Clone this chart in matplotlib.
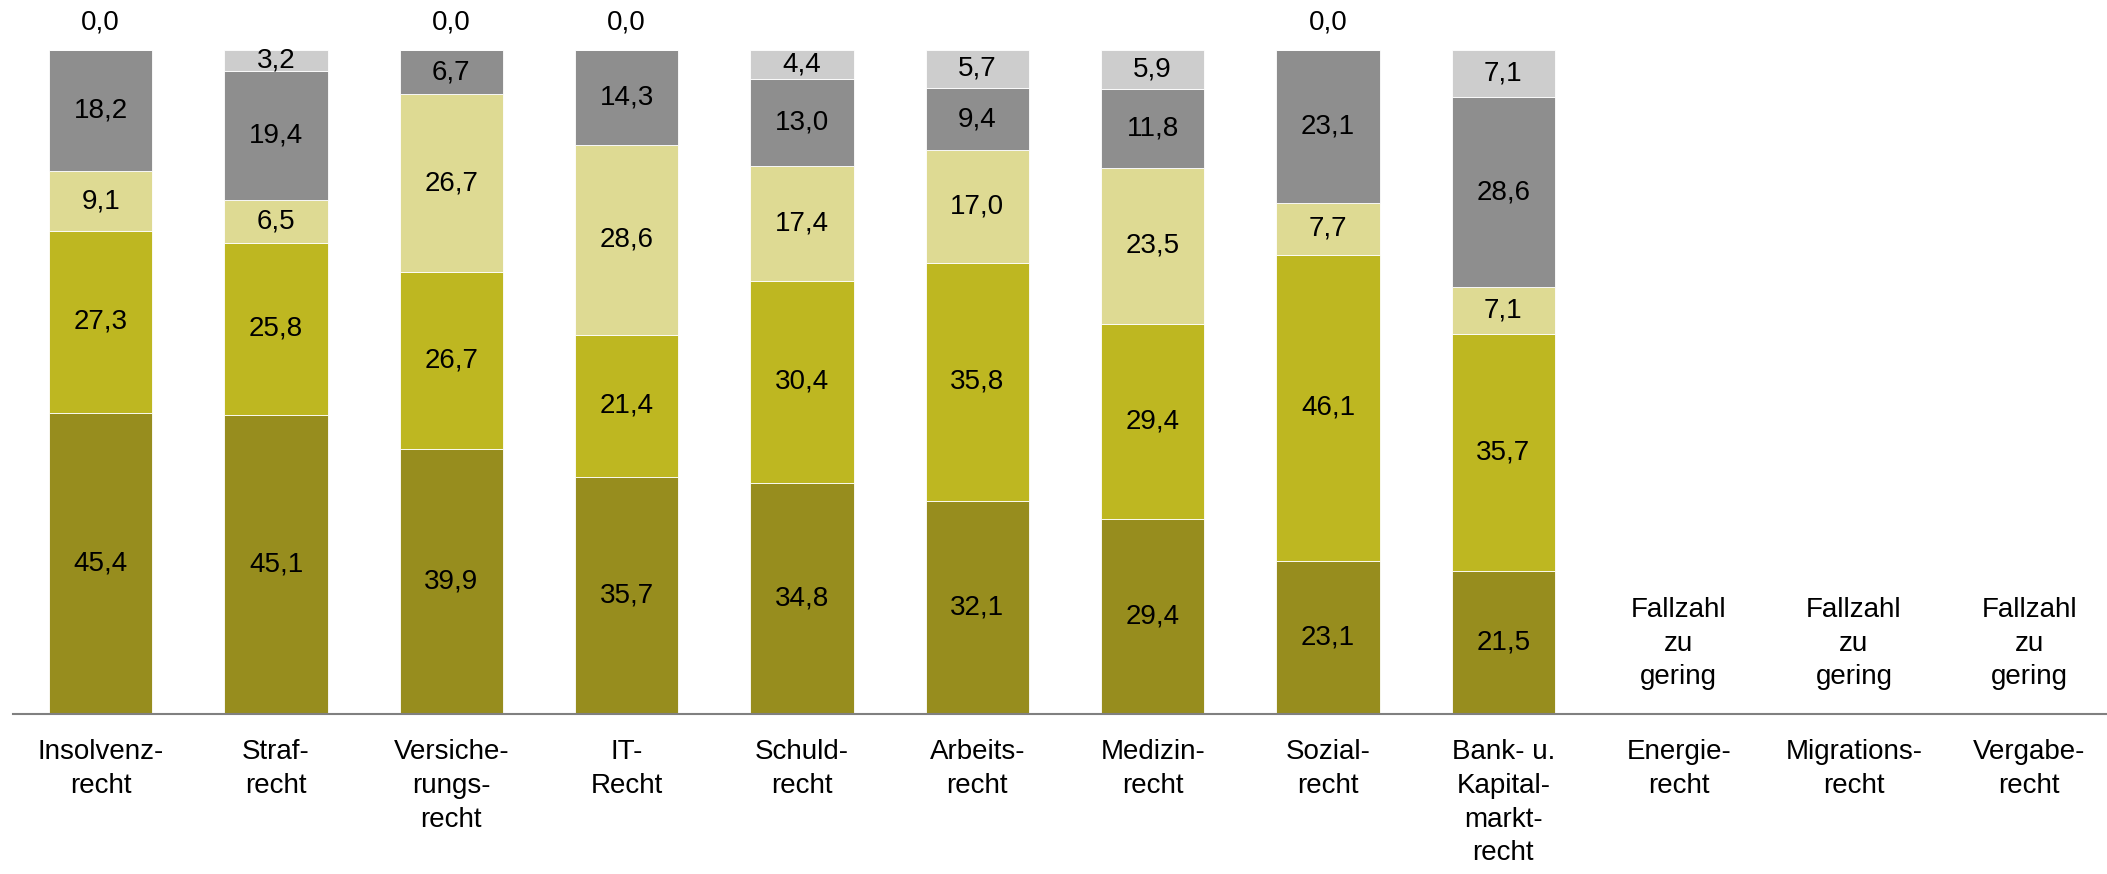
import numpy as np
import matplotlib.pyplot as plt

plt.rcParams['font.family'] = ['Liberation Sans', 'DejaVu Sans']

categories = ['Insolvenz-\nrecht', 'Straf-\nrecht', 'Versiche-\nrungs-\nrecht', 'IT-\nRecht',
              'Schuld-\nrecht', 'Arbeits-\nrecht', 'Medizin-\nrecht', 'Sozial-\nrecht',
              'Bank- u.\nKapital-\nmarkt-\nrecht', 'Energie-\nrecht', 'Migrations-\nrecht', 'Vergabe-\nrecht']

# stacked shares in percent, bottom to top (only the first nine fields have data)
share_1 = [45.4, 45.1, 39.9, 35.7, 34.8, 32.1, 29.4, 23.1, 21.5]
share_2 = [27.3, 25.8, 26.7, 21.4, 30.4, 35.8, 29.4, 46.1, 35.7]
share_3 = [9.1, 6.5, 26.7, 28.6, 17.4, 17.0, 23.5, 7.7, 7.1]
share_4 = [18.2, 19.4, 6.7, 14.3, 13.0, 9.4, 11.8, 23.1, 28.6]
share_5 = [0.0, 3.2, 0.0, 0.0, 4.4, 5.7, 5.9, 0.0, 7.1]
no_data_text = 'Fallzahl\nzu\ngering'

COLORS = ['#978D1E', '#BEB721', '#DEDA93', '#8E8E8E', '#CDCDCD']
FS = 20
LS = 1.39

def fmt(v):
	return '{:.1f}'.format(v).replace('.', ',')

def main():
	fig = plt.figure(figsize=(21.07, 8.74), dpi=100)
	ax = fig.add_axes([13 / 2107, 160 / 874, 2104 / 2107, 664 / 874])
	series = [share_1, share_2, share_3, share_4, share_5]
	n = len(share_1)
	x = np.arange(n)
	bottom = np.zeros(n)
	for vals, color in zip(series, COLORS):
		vals = np.array(vals)
		ax.bar(x, vals, bottom=bottom, width=0.59, color=color, edgecolor='white', linewidth=0.6)
		for xi, b, v in zip(x, bottom, vals):
			if v > 0:
				ax.text(xi, b + v / 2, fmt(v), ha='center', va='center', fontsize=FS)
			else:
				ax.text(xi, 104.1, fmt(v), ha='center', va='center', fontsize=FS, clip_on=False)
		bottom += vals
	for xi in range(n, len(categories)):
		ax.text(xi, 10.6, no_data_text, ha='center', va='center', fontsize=FS, linespacing=LS)

	ax.set_xlim(-0.5, len(categories) - 0.5)
	ax.set_ylim(0, 100)
	ax.set_xticks(range(len(categories)))
	ax.set_xticklabels(categories, fontsize=FS, linespacing=LS, va='top')
	ax.tick_params(axis='x', length=0, pad=18)
	ax.set_yticks([])
	for s in ['top', 'left', 'right']:
		ax.spines[s].set_visible(False)
	ax.spines['bottom'].set_color('#808080')
	ax.spines['bottom'].set_linewidth(1.5)
	fig.savefig('out.png', dpi=100)

if __name__ == '__main__':
	main()
